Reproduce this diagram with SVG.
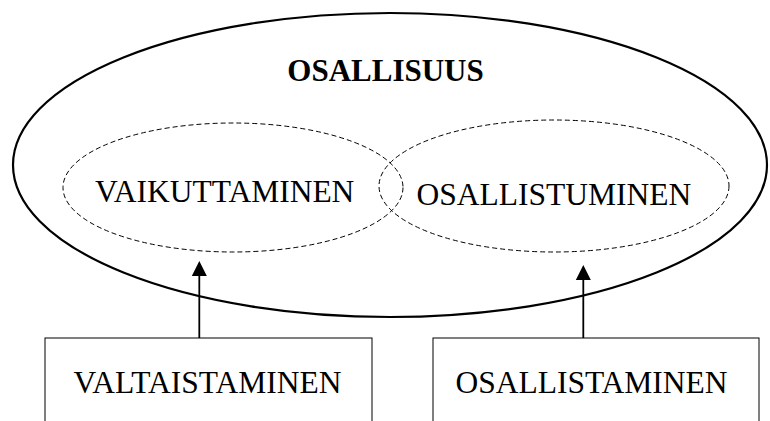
<svg xmlns="http://www.w3.org/2000/svg" width="770" height="421" viewBox="0 0 770 421">
<style>
text{font-family:"Liberation Serif","Times New Roman",serif;fill:#000;text-anchor:middle}
.lbl{font-size:31.5px}
.title{font-size:31px;font-weight:bold}
.outer{fill:none;stroke:#000;stroke-width:2.2}
.dash{fill:none;stroke:#000;stroke-width:1;stroke-dasharray:5,3}
.box{fill:#fff;stroke:#000;stroke-width:1}
.conn{stroke:#000;stroke-width:1.8;fill:none}
</style>
<defs>
<marker id="arr" viewBox="0 0 10 10" refX="10" refY="5" markerWidth="8" markerHeight="8" markerUnits="userSpaceOnUse" orient="auto">
<path d="M0,0 L10,5 L0,10 Z" fill="#000"/>
</marker>
</defs>
<g id="osallisuus">
<ellipse class="outer" cx="390" cy="165" rx="377" ry="152"/>
<text class="title" x="385.5" y="81">OSALLISUUS</text>
</g>
<g id="vaikuttaminen">
<ellipse class="dash" cx="233" cy="187.5" rx="170" ry="64.5"/>
<text class="lbl" x="224.7" y="202">VAIKUTTAMINEN</text>
</g>
<g id="osallistuminen">
<ellipse class="dash" cx="554" cy="186" rx="175" ry="66"/>
<text class="lbl" x="553.8" y="205">OSALLISTUMINEN</text>
</g>
<g id="valtaistaminen">
<rect class="box" x="45" y="338" width="327" height="100"/>
<text class="lbl" x="207.5" y="393">VALTAISTAMINEN</text>
</g>
<g id="osallistaminen">
<rect class="box" x="433" y="338" width="326" height="100"/>
<text class="lbl" x="591.5" y="393">OSALLISTAMINEN</text>
</g>
<g id="connectors">
<path d="M0,0 L15,0 L7.5,-15 Z" transform="translate(191.8,276)" fill="#000"/>
<line class="conn" x1="199.3" y1="338" x2="199.3" y2="276"/>
<path d="M0,0 L15,0 L7.5,-15 Z" transform="translate(575.8,280)" fill="#000"/>
<line class="conn" x1="583.3" y1="338" x2="583.3" y2="280"/>
</g>
</svg>
